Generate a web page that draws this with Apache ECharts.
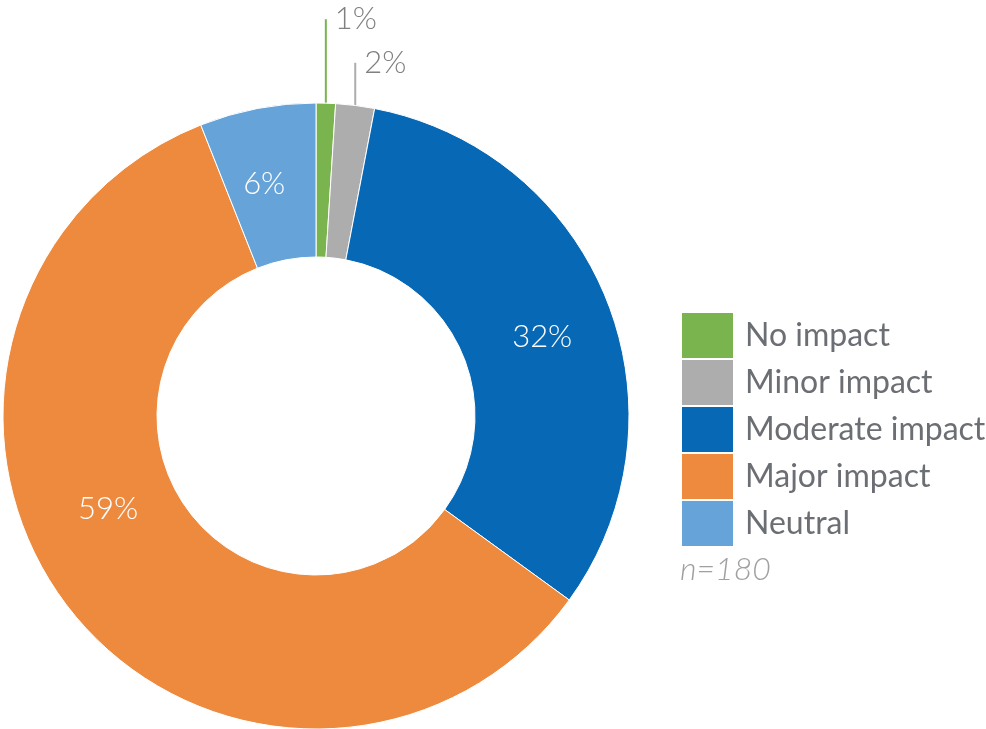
<!DOCTYPE html>
<html>
<head>
<meta charset="utf-8">
<script src="https://cdn.jsdelivr.net/npm/echarts@6/dist/echarts.min.js"></script>
<style>
  html, body { margin: 0; padding: 0; background: #fff; }
  #chart { width: 986px; height: 729px; }
</style>
</head>
<body>
<div id="chart"></div>
<script>
// Share of respondents by reported impact (percent), n=180
const categories = ['No impact', 'Minor impact', 'Moderate impact', 'Major impact', 'Neutral'];
const shares = [1, 2, 32, 59, 6];
const colors = ['#7AB44E', '#ADADAD', '#0768B5', '#EE8A3D', '#65A3D8'];
const sampleNote = 'n=180';

const FONT = 'Lato, "Open Sans", sans-serif';
const TEXT_SIZE = 31;

// Small slices get their labels outside on vertical leaders; large ones inside
const outsideLen = { 'No impact': 84, 'Minor impact': 43 };
const insideOffset = { 'Moderate impact': [4, 9], 'Major impact': [-19, -53], 'Neutral': [-7, 3] };

const data = categories.map((name, i) => {
  const item = { name, value: shares[i], itemStyle: { color: colors[i] } };
  if (outsideLen[name] !== undefined) {
    item.label = {
      position: 'outside',
      color: '#808080',
      fontSize: TEXT_SIZE,
      fontWeight: 300,
      fontFamily: FONT
    };
    item.labelLine = {
      show: true,
      length: outsideLen[name],
      length2: 0,
      lineStyle: { color: colors[i], width: 2 }
    };
  } else if (insideOffset[name]) {
    item.label = { offset: insideOffset[name] };
  }
  return item;
});

const chart = echarts.init(document.getElementById('chart'));
chart.setOption({
  animation: false,
  legend: {
    orient: 'vertical',
    left: 682,
    top: 313,
    padding: 0,
    icon: 'rect',
    itemWidth: 51,
    itemHeight: 45,
    itemGap: 2,
    selectedMode: false,
    data: categories,
    itemStyle: { borderWidth: 0 },
    textStyle: {
      color: '#6B6E73',
      fontSize: 32,
      fontFamily: FONT,
      padding: [0, 0, 0, 7]
    }
  },
  graphic: [{
    type: 'text',
    left: 680,
    top: 554,
    style: {
      text: sampleNote,
      fill: '#A0A0A0',
      fontSize: 32,
      fontStyle: 'italic',
      fontWeight: 300,
      fontFamily: FONT
    }
  }],
  series: [{
    type: 'pie',
    center: [316, 416],
    radius: [159, 313],
    startAngle: 90,
    clockwise: true,
    avoidLabelOverlap: false,
    itemStyle: { borderColor: '#fff', borderWidth: 1 },
    label: {
      show: true,
      position: 'inside',
      formatter: '{c}%',
      color: '#fff',
      fontSize: TEXT_SIZE,
      fontWeight: 300,
      fontFamily: FONT
    },
    labelLine: { show: false },
    labelLayout: function (params) {
      const pts = params.labelLinePoints;
      if (!pts) return {};
      // straighten the leader into a vertical stroke rising from the slice edge
      const x0 = pts[0][0];
      const yTop = pts[1][1];
      return {
        x: x0 + 9,
        y: yTop,
        align: 'left',
        verticalAlign: 'middle',
        labelLinePoints: [[x0, pts[0][1]], [x0, yTop], [x0, yTop]]
      };
    },
    data: data
  }]
});
</script>
</body>
</html>
